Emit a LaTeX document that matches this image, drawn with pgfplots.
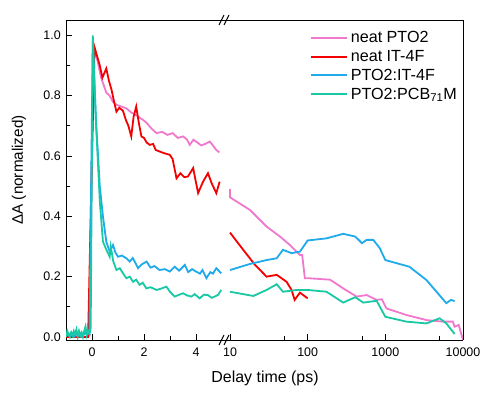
\documentclass[border=0pt]{standalone}
\usepackage{fontspec}
\setmainfont{Liberation Sans}
\usepackage{pgfplots}
\pgfplotsset{compat=1.18}
\definecolor{pinkc}{RGB}{240,120,205}
\definecolor{redc}{RGB}{245,0,0}
\definecolor{bluec}{RGB}{30,170,235}
\definecolor{tealc}{RGB}{25,200,165}
\pgfplotsset{
  common/.style={
    scale only axis, height=320bp,
    ymin=-0.01, ymax=1.051,
    tick align=inside,
    major tick length=6bp, minor tick length=3.5bp,
    every tick/.style={black, line width=0.8bp},
    axis line style={line width=0.9bp},
    /pgf/number format/assume math mode=true,
    tick label style={font=\fontsize{12.5}{14}\selectfont},
    xticklabel style={inner sep=0pt, yshift=-8bp},
    clip=true,
  }
}
\begin{document}
\begin{tikzpicture}
\useasboundingbox (0,0) rectangle (486bp,394bp);
% left (linear) part
\begin{axis}[common,
  at={(66bp,54bp)}, anchor=south west, width=162bp,
  xmin=-1, xmax=5.23,
  axis x line*=box, axis y line*=left,
  xtick pos=bottom, ytick pos=left,
  xtick={0,2,4}, minor xtick={1,3},
  ytick={0,0.2,0.4,0.6,0.8,1.0}, minor ytick={0.1,0.3,0.5,0.7,0.9},
  yticklabel style={inner sep=0pt, xshift=-5bp, /pgf/number format/.cd, fixed, fixed zerofill, precision=1},
]
\addplot[color=pinkc, line width=1.8bp, no markers] coordinates {(-1,0.005)(-0.5,0.008)(-0.1,0.01)(0.05,0.9)(0.12,0.95)(0.2,0.92)(0.35,0.86)(0.55,0.81)(0.68,0.80)(0.8,0.78)(0.94,0.77)(1.1,0.765)(1.32,0.758)(1.5,0.745)(1.7,0.735)(1.96,0.72)(2.1,0.71)(2.3,0.69)(2.48,0.676)(2.7,0.68)(2.9,0.67)(3.1,0.676)(3.3,0.66)(3.5,0.665)(3.65,0.655)(3.76,0.637)(3.9,0.654)(4.05,0.645)(4.2,0.635)(4.35,0.64)(4.53,0.648)(4.65,0.635)(4.78,0.62)(4.9,0.612)};
\addplot[color=redc, line width=1.8bp, no markers] coordinates {(-1,0.0)(-0.5,0.0)(-0.15,0.0)(0.0,0.6)(0.1,0.96)(0.2,0.93)(0.3,0.9)(0.4,0.86)(0.5,0.88)(0.55,0.89)(0.65,0.85)(0.75,0.82)(0.85,0.78)(0.94,0.747)(1.05,0.76)(1.19,0.75)(1.3,0.72)(1.4,0.7)(1.51,0.665)(1.6,0.73)(1.7,0.764)(1.8,0.71)(1.9,0.665)(2.0,0.66)(2.1,0.645)(2.22,0.637)(2.35,0.64)(2.45,0.62)(2.6,0.615)(2.75,0.61)(2.99,0.604)(3.1,0.59)(3.25,0.526)(3.4,0.543)(3.55,0.53)(3.69,0.532)(3.89,0.56)(4.08,0.477)(4.27,0.515)(4.46,0.543)(4.6,0.51)(4.78,0.477)(4.91,0.515)};
\addplot[color=bluec, line width=1.8bp, no markers] coordinates {(-1,0.01)(-0.9,0.005)(-0.8,0.015)(-0.7,0.0)(-0.6,0.01)(-0.5,0.005)(-0.4,0.0)(-0.3,0.01)(-0.2,0.02)(-0.1,0.01)(0.03,0.98)(0.15,0.72)(0.3,0.5)(0.42,0.40)(0.55,0.316)(0.68,0.283)(0.81,0.305)(0.9,0.28)(1.0,0.266)(1.15,0.27)(1.32,0.261)(1.45,0.25)(1.57,0.262)(1.77,0.228)(1.9,0.24)(2.1,0.25)(2.25,0.23)(2.4,0.235)(2.6,0.222)(2.8,0.225)(2.99,0.217)(3.18,0.233)(3.35,0.22)(3.57,0.239)(3.7,0.215)(3.85,0.225)(4.0,0.217)(4.15,0.21)(4.25,0.222)(4.4,0.195)(4.55,0.215)(4.65,0.21)(4.78,0.228)(4.97,0.211)};
\addplot[color=tealc, line width=1.8bp, no markers] coordinates {(-1,0.0)(-0.95,0.02)(-0.9,0.01)(-0.85,0.0)(-0.8,0.015)(-0.75,0.005)(-0.7,0.02)(-0.65,0.01)(-0.6,0.025)(-0.55,0.0)(-0.5,0.02)(-0.45,0.005)(-0.4,0.015)(-0.35,0.0)(-0.3,0.02)(-0.25,0.035)(-0.2,0.005)(-0.15,0.02)(-0.1,0.01)(-0.05,0.03)(0.03,1.0)(0.15,0.72)(0.3,0.45)(0.42,0.316)(0.55,0.29)(0.68,0.266)(0.72,0.3)(0.82,0.25)(0.94,0.222)(1.07,0.228)(1.2,0.21)(1.32,0.195)(1.45,0.2)(1.58,0.183)(1.7,0.19)(1.83,0.173)(1.95,0.18)(2.09,0.161)(2.25,0.165)(2.48,0.156)(2.65,0.16)(2.86,0.167)(3.0,0.15)(3.18,0.134)(3.35,0.14)(3.5,0.145)(3.65,0.138)(3.82,0.134)(3.95,0.142)(4.14,0.128)(4.3,0.14)(4.46,0.139)(4.6,0.13)(4.72,0.134)(4.85,0.14)(4.97,0.156)};
\end{axis}
% right (log) part
\begin{axis}[common,
  at={(228bp,54bp)}, anchor=south west, width=235bp,
  xmode=log, xmin=9.425, xmax=10000,
  axis x line*=box, axis y line*=right,
  xtick pos=bottom, ytick=\empty,
  xtick={10,100,1000,10000}, xticklabels={10,100,1000,10000},
  minor xtick={50,500,5000},
  legend style={draw=none, fill=none, at={(rel axis cs:0.348,0.972)}, anchor=north west,
    font=\fontsize{16.2}{19}\selectfont, inner sep=0pt, row sep=1bp,
    nodes={inner sep=2.5bp}},
  legend cell align=left,
  legend image post style={xscale=2.15},
]
\addplot[color=pinkc, line width=1.8bp, no markers] coordinates {(10,0.49)(10,0.463)(18.1,0.421)(29.6,0.366)(44,0.333)(59,0.305)(79.5,0.272)(85,0.272)(92,0.195)(100,0.195)(194,0.19)(287,0.161)(427,0.134)(574,0.139)(773,0.123)(900,0.125)(1030,0.095)(1860,0.073)(3380,0.056)(5500,0.051)(7400,0.051)(7800,0.034)(8800,0.04)(10000,-0.01)};
\addlegendentry{neat PTO2}
\addplot[color=redc, line width=1.8bp, no markers] coordinates {(10,0.346)(14.8,0.289)(21,0.239)(29.6,0.2)(40,0.206)(53.5,0.183)(62,0.156)(68,0.123)(79.5,0.147)(100,0.128)};
\addlegendentry{neat IT-4F}
\addplot[color=bluec, line width=1.8bp, no markers] coordinates {(10,0.222)(18,0.242)(29.6,0.255)(40,0.261)(48,0.289)(62,0.278)(79.5,0.283)(100,0.32)(175,0.327)(287,0.342)(410,0.333)(500,0.311)(574,0.322)(700,0.322)(850,0.294)(1000,0.255)(2040,0.233)(3380,0.189)(6100,0.112)(7000,0.123)(7800,0.119)};
\addlegendentry{PTO2:IT-4F}
\addplot[color=tealc, line width=1.8bp, no markers] coordinates {(10,0.15)(20,0.136)(29.6,0.156)(40,0.175)(48,0.15)(73,0.156)(100,0.156)(175,0.15)(287,0.114)(410,0.132)(520,0.114)(773,0.12)(1000,0.067)(1860,0.051)(3380,0.045)(5000,0.062)(6100,0.045)(7800,0.01)};
\addlegendentry{PTO2:PCB\textsubscript{71}M}
\end{axis}
% axis break marks
\foreach \yy in {54bp,374bp}{
  \draw[line width=0.9bp] (219bp,\yy-5bp) -- (224bp,\yy+5bp);
  \draw[line width=0.9bp] (224bp,\yy-5bp) -- (229bp,\yy+5bp);
}
\node[font=\fontsize{16}{19}\selectfont] at (265bp,16bp) {Delay time (ps)};
\node[font=\fontsize{15.3}{18}\selectfont, rotate=90] at (19bp,224bp) {ΔA (normalized)};
\end{tikzpicture}
\end{document}
